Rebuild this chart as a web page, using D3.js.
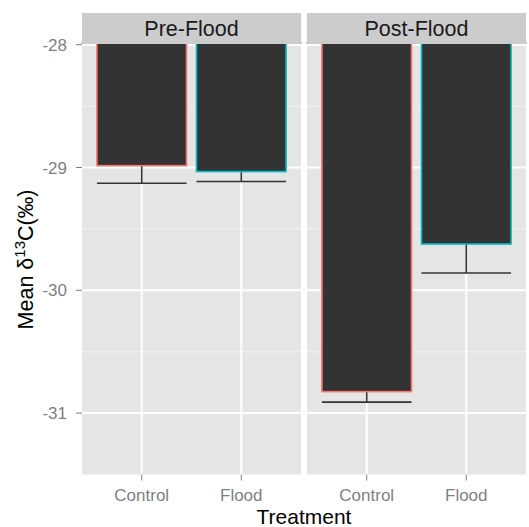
<!DOCTYPE html>
<html>
<head>
<meta charset="utf-8">
<script src="https://cdn.jsdelivr.net/npm/d3@7"></script>
<style>
  html, body { margin: 0; padding: 0; background: #fff; }
  svg { display: block; font-family: "Liberation Sans", Arial, sans-serif; }
</style>
</head>
<body>
<svg id="chart" width="529" height="527"></svg>
<script>
// Facets, categories and mean / lower error values of δ13C
const periods = ["Pre-Flood", "Post-Flood"];
const treatments = ["Control", "Flood"];
const meanPre = [-28.985, -29.033];
const meanPost = [-30.825, -29.623];
const lowerPre = [-29.128, -29.114];
const lowerPost = [-30.911, -29.859];
const yTicks = [-31, -30, -29, -28];
const yTickLabels = ["-31", "-30", "-29", "-28"];
const yMinor = [-31.5, -30.5, -29.5, -28.5];

const means = [meanPre, meanPost];
const lowers = [lowerPre, lowerPost];
const outlineColors = ["#F8766D", "#00BFC4"];

const svg = d3.select("#chart");
const panelTop = 44.5, panelBottom = 474.5;
const panelLeft = [82, 307], panelWidth = 219;
const stripTop = 13;

const y = d3.scaleLinear().domain([-31.5, -28]).range([panelBottom, panelTop + 0.2]);

// y axis labels + ticks
const yAxisG = svg.append("g");
yTicks.forEach((t, k) => {
  yAxisG.append("line")
    .attr("x1", panelLeft[0] - 6).attr("x2", panelLeft[0])
    .attr("y1", y(t)).attr("y2", y(t))
    .attr("stroke", "#7F7F7F").attr("stroke-width", 1);
  yAxisG.append("text")
    .attr("x", panelLeft[0] - 15).attr("y", y(t))
    .attr("dy", "0.36em").attr("text-anchor", "end")
    .attr("font-size", 17).attr("fill", "#7F7F7F")
    .text(yTickLabels[k]);
});

periods.forEach((p, i) => {
  const x0 = panelLeft[i];
  // discrete expansion of 0.6 steps on each side, bar width 0.9 steps
  const x = d3.scalePoint().domain(treatments)
    .range([x0, x0 + panelWidth]).padding(0.6);
  const unit = x.step();
  const cx = t => x(t);
  const bw = 0.9 * unit;

  const g = svg.append("g");
  // strip
  g.append("rect").attr("x", x0).attr("y", stripTop)
    .attr("width", panelWidth).attr("height", panelTop - stripTop - 0.5)
    .attr("fill", "#CCCCCC");
  g.append("text").attr("x", x0 + panelWidth / 2).attr("y", (stripTop + panelTop) / 2)
    .attr("dy", "0.36em").attr("text-anchor", "middle")
    .attr("font-size", 21.5).attr("fill", "#1A1A1A").text(p);

  // panel background
  g.append("rect").attr("x", x0).attr("y", panelTop)
    .attr("width", panelWidth).attr("height", panelBottom - panelTop)
    .attr("fill", "#E5E5E5");

  // grid lines
  yMinor.forEach(t => g.append("line")
    .attr("x1", x0).attr("x2", x0 + panelWidth)
    .attr("y1", y(t)).attr("y2", y(t))
    .attr("stroke", "#F2F2F2").attr("stroke-width", 1));
  yTicks.forEach(t => g.append("line")
    .attr("x1", x0).attr("x2", x0 + panelWidth)
    .attr("y1", y(t)).attr("y2", y(t))
    .attr("stroke", "#FFFFFF").attr("stroke-width", 2));
  treatments.forEach(t => g.append("line")
    .attr("x1", cx(t)).attr("x2", cx(t))
    .attr("y1", panelTop).attr("y2", panelBottom)
    .attr("stroke", "#FFFFFF").attr("stroke-width", 2));

  // error bars (lower half)
  treatments.forEach((t, j) => {
    g.append("line").attr("x1", cx(t)).attr("x2", cx(t))
      .attr("y1", y(means[i][j])).attr("y2", y(lowers[i][j]))
      .attr("stroke", "#333333").attr("stroke-width", 1.6);
    g.append("line").attr("x1", cx(t) - bw / 2).attr("x2", cx(t) + bw / 2)
      .attr("y1", y(lowers[i][j])).attr("y2", y(lowers[i][j]))
      .attr("stroke", "#333333").attr("stroke-width", 1.6);
  });

  // bars: from the top of the panel (clipped) down to the mean
  treatments.forEach((t, j) => {
    const top = y(-28) - 2;
    g.append("rect")
      .attr("x", cx(t) - bw / 2).attr("y", top)
      .attr("width", bw).attr("height", y(means[i][j]) - top)
      .attr("fill", "#333333")
      .attr("stroke", outlineColors[j]).attr("stroke-width", 1.6);
  });
  // cover the bar overflow above the panel with the strip again
  g.append("rect").attr("x", x0 - 1).attr("y", panelTop - 3)
    .attr("width", panelWidth + 2).attr("height", 2.5).attr("fill", "#CCCCCC");

  // x axis ticks and labels
  treatments.forEach(t => {
    g.append("line").attr("x1", cx(t)).attr("x2", cx(t))
      .attr("y1", panelBottom).attr("y2", panelBottom + 6)
      .attr("stroke", "#7F7F7F").attr("stroke-width", 1);
    g.append("text").attr("x", cx(t)).attr("y", 501)
      .attr("text-anchor", "middle").attr("font-size", 17)
      .attr("fill", "#7F7F7F").text(t);
  });
});

// axis titles
svg.append("text").attr("x", (panelLeft[0] + panelLeft[1] + panelWidth) / 2)
  .attr("y", 524).attr("text-anchor", "middle")
  .attr("font-size", 21).attr("fill", "#000").text("Treatment");

const yTitle = svg.append("text")
  .attr("transform", `translate(33, ${(panelTop + panelBottom) / 2}) rotate(-90)`)
  .attr("text-anchor", "middle").attr("font-size", 21.5).attr("fill", "#000");
yTitle.append("tspan").text("Mean δ");
yTitle.append("tspan").attr("font-size", 15).attr("dy", -8).text("13");
yTitle.append("tspan").attr("dy", 8).text("C(‰)");
</script>
</body>
</html>
